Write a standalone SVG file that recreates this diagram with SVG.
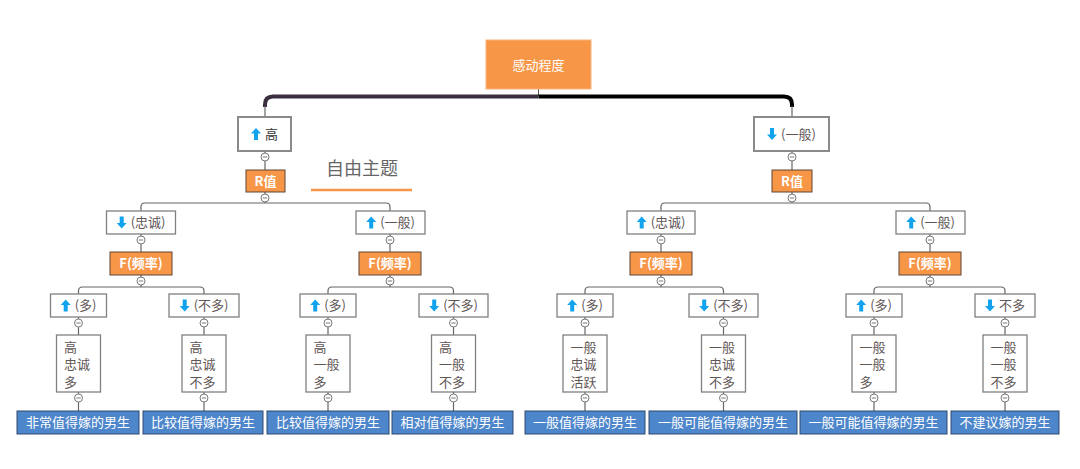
<svg xmlns="http://www.w3.org/2000/svg" width="1080" height="469" viewBox="0 0 1080 469">
<style>
text{font-family:"Noto Sans CJK SC","Liberation Sans",sans-serif;font-size:13px}
.wb{fill:#fff;stroke:#808080;stroke-width:1.3}
.l1{fill:#fff;stroke:#8a8a8a;stroke-width:2}
.or{fill:#F79646;stroke:#5e4636;stroke-width:1}
.bl{fill:#4E86CB;stroke:#2E4A6E;stroke-width:1}
.tw{fill:#fff;font-weight:bold}
.tb{fill:#fff;text-anchor:middle}
.tg{fill:#5f5656}
.ln{fill:none;stroke:#666;stroke-width:1.2}
.ic{fill:#12A3EE}
</style>
<defs>
<path id="up" d="M5,0 L10,5.5 H7 V12 H3 V5.5 H0 Z"/>
<path id="dn" d="M5,12 L10,6.5 H7 V0 H3 V6.5 H0 Z"/>
<g id="c"><circle r="4" fill="#fff" stroke="#7a7a7a" stroke-width="1"/><line x1="-2.2" x2="2.2" y1="0" y2="0" stroke="#7a7a7a" stroke-width="1"/></g>
</defs>

<g id="connectors">
<line x1="538.5" y1="89" x2="538.5" y2="96" stroke="#555" stroke-width="1"/>
<path d="M538.5,96.5 H273 Q265,96.5 265,104.5 V107" fill="none" stroke="#3b2e3e" stroke-width="4"/>
<path d="M538.5,96.5 H784 Q792,96.5 792,104.5 V107" fill="none" stroke="#000" stroke-width="4"/>
<line class="ln" x1="265" y1="106" x2="265" y2="117"/>
<line class="ln" x1="792" y1="106" x2="792" y2="117"/>
<line class="ln" x1="265" y1="151" x2="265" y2="170"/>
<line class="ln" x1="792" y1="151" x2="792" y2="170"/>
<line class="ln" x1="265" y1="192" x2="265" y2="203"/>
<line class="ln" x1="792" y1="192" x2="792" y2="203"/>
<path class="ln" d="M141,211 V207 Q141,203 145,203 H386 Q390,203 390,207 V211"/>
<path class="ln" d="M661,211 V207 Q661,203 665,203 H926 Q930,203 930,207 V211"/>
<line class="ln" x1="141" y1="234" x2="141" y2="252"/>
<line class="ln" x1="390" y1="234" x2="390" y2="252"/>
<line class="ln" x1="661" y1="234" x2="661" y2="252"/>
<line class="ln" x1="930" y1="234" x2="930" y2="252"/>
<line class="ln" x1="141" y1="275" x2="141" y2="287"/>
<line class="ln" x1="390" y1="275" x2="390" y2="287"/>
<line class="ln" x1="661" y1="275" x2="661" y2="287"/>
<line class="ln" x1="930" y1="275" x2="930" y2="287"/>
<path class="ln" d="M78.5,294 V291 Q78.5,287 82.5,287 H200 Q204,287 204,291 V294"/>
<path class="ln" d="M328,294 V291 Q328,287 332,287 H449.5 Q453.5,287 453.5,291 V294"/>
<path class="ln" d="M585,294 V291 Q585,287 589,287 H719.5 Q723.5,287 723.5,291 V294"/>
<path class="ln" d="M874,294 V291 Q874,287 878,287 H1001 Q1005,287 1005,291 V294"/>
<line class="ln" x1="78.5" y1="317" x2="78.5" y2="335"/>
<line class="ln" x1="204" y1="317" x2="204" y2="335"/>
<line class="ln" x1="328" y1="317" x2="328" y2="335"/>
<line class="ln" x1="453.5" y1="317" x2="453.5" y2="335"/>
<line class="ln" x1="585" y1="317" x2="585" y2="335"/>
<line class="ln" x1="723.5" y1="317" x2="723.5" y2="335"/>
<line class="ln" x1="874" y1="317" x2="874" y2="335"/>
<line class="ln" x1="1005" y1="317" x2="1005" y2="335"/>
<line class="ln" x1="78.5" y1="392" x2="78.5" y2="411"/>
<line class="ln" x1="204" y1="392" x2="204" y2="411"/>
<line class="ln" x1="328" y1="392" x2="328" y2="411"/>
<line class="ln" x1="453.5" y1="392" x2="453.5" y2="411"/>
<line class="ln" x1="585" y1="392" x2="585" y2="411"/>
<line class="ln" x1="723.5" y1="392" x2="723.5" y2="411"/>
<line class="ln" x1="874" y1="392" x2="874" y2="411"/>
<line class="ln" x1="1005" y1="392" x2="1005" y2="411"/>
<use href="#c" x="265" y="157"/><use href="#c" x="792" y="157"/>
<use href="#c" x="265" y="198"/><use href="#c" x="792" y="198"/>
<use href="#c" x="141" y="240"/><use href="#c" x="390" y="240"/><use href="#c" x="661" y="240"/><use href="#c" x="930" y="240"/>
<use href="#c" x="141" y="281"/><use href="#c" x="390" y="281"/><use href="#c" x="661" y="281"/><use href="#c" x="930" y="281"/>
<use href="#c" x="78.5" y="323"/><use href="#c" x="204" y="323"/><use href="#c" x="328" y="323"/><use href="#c" x="453.5" y="323"/>
<use href="#c" x="585" y="323"/><use href="#c" x="723.5" y="323"/><use href="#c" x="874" y="323"/><use href="#c" x="1005" y="323"/>
<use href="#c" x="78.5" y="398"/><use href="#c" x="204" y="398"/><use href="#c" x="328" y="398"/><use href="#c" x="453.5" y="398"/>
<use href="#c" x="585" y="398"/><use href="#c" x="723.5" y="398"/><use href="#c" x="874" y="398"/><use href="#c" x="1005" y="398"/>
</g>

<g id="root"><rect x="486" y="40" width="105" height="49" fill="#F79646" stroke="#F9B27A" stroke-width="1"/><text x="538.5" y="69.5" class="tb">感动程度</text></g>

<g id="free-topic"><text x="326" y="175" style="font-size:18px;fill:#666">自由主题</text><line x1="311" y1="190" x2="412" y2="190" stroke="#F79646" stroke-width="2.5"/></g>

<g id="n-high"><rect class="l1" x="238" y="117" width="53" height="34"/><use href="#up" class="ic" x="251" y="128"/><text x="265" y="138.5" fill="#333">高</text></g>
<g id="n-avg"><rect class="l1" x="754" y="117" width="75" height="34"/><use href="#dn" class="ic" x="767" y="128"/><text x="781" y="138.5" class="tg">(一般)</text></g>

<g id="r-left"><rect class="or" x="246" y="170" width="39" height="22"/><text x="265.5" y="185.5" class="tw" text-anchor="middle">R值</text></g>
<g id="r-right"><rect class="or" x="772" y="170" width="40" height="22"/><text x="792" y="185.5" class="tw" text-anchor="middle">R值</text></g>

<g id="n-ll"><rect class="wb" x="106.5" y="211" width="69" height="23"/><use href="#dn" class="ic" x="116.7" y="216.5"/><text x="130.7" y="227" class="tg">(忠诚)</text></g>
<g id="n-lr"><rect class="wb" x="356" y="211" width="69" height="23"/><use href="#up" class="ic" x="366.2" y="216.5"/><text x="380.2" y="227" class="tg">(一般)</text></g>
<g id="n-rl"><rect class="wb" x="627" y="211" width="68" height="23"/><use href="#up" class="ic" x="636.7" y="216.5"/><text x="650.7" y="227" class="tg">(忠诚)</text></g>
<g id="n-rr"><rect class="wb" x="896" y="211" width="69" height="23"/><use href="#up" class="ic" x="906.2" y="216.5"/><text x="920.2" y="227" class="tg">(一般)</text></g>

<g id="f-ll"><rect class="or" x="110" y="252" width="62" height="23"/><text x="141" y="268" class="tw" text-anchor="middle">F(频率)</text></g>
<g id="f-lr"><rect class="or" x="359" y="252" width="62" height="23"/><text x="390" y="268" class="tw" text-anchor="middle">F(频率)</text></g>
<g id="f-rl"><rect class="or" x="630" y="252" width="62" height="23"/><text x="661" y="268" class="tw" text-anchor="middle">F(频率)</text></g>
<g id="f-rr"><rect class="or" x="899" y="252" width="62" height="23"/><text x="930" y="268" class="tw" text-anchor="middle">F(频率)</text></g>

<g id="a1"><rect class="wb" x="50.5" y="294" width="56" height="23"/><use href="#up" class="ic" x="60.7" y="299.5"/><text x="74.7" y="310" class="tg">(多)</text></g>
<g id="a2"><rect class="wb" x="169" y="294" width="70" height="23"/><use href="#dn" class="ic" x="179.7" y="299.5"/><text x="193.7" y="310" class="tg">(不多)</text></g>
<g id="a3"><rect class="wb" x="300" y="294" width="56" height="23"/><use href="#up" class="ic" x="310.2" y="299.5"/><text x="324.2" y="310" class="tg">(多)</text></g>
<g id="a4"><rect class="wb" x="419" y="294" width="69" height="23"/><use href="#dn" class="ic" x="429.2" y="299.5"/><text x="443.2" y="310" class="tg">(不多)</text></g>
<g id="a5"><rect class="wb" x="557" y="294" width="56" height="23"/><use href="#up" class="ic" x="567.2" y="299.5"/><text x="581.2" y="310" class="tg">(多)</text></g>
<g id="a6"><rect class="wb" x="689" y="294" width="69" height="23"/><use href="#dn" class="ic" x="699.2" y="299.5"/><text x="713.2" y="310" class="tg">(不多)</text></g>
<g id="a7"><rect class="wb" x="846" y="294" width="56" height="23"/><use href="#up" class="ic" x="856.2" y="299.5"/><text x="870.2" y="310" class="tg">(多)</text></g>
<g id="a8"><rect class="wb" x="975" y="294" width="60" height="23"/><use href="#dn" class="ic" x="985" y="299.5"/><text x="999" y="310" class="tg">不多</text></g>

<g id="b1"><rect class="wb" x="56.5" y="335" width="44" height="57"/><text class="tg" x="64" y="351.5">高</text><text class="tg" x="64" y="369">忠诚</text><text class="tg" x="64" y="386.5">多</text></g>
<g id="b2"><rect class="wb" x="182" y="335" width="44" height="57"/><text class="tg" x="189.5" y="351.5">高</text><text class="tg" x="189.5" y="369">忠诚</text><text class="tg" x="189.5" y="386.5">不多</text></g>
<g id="b3"><rect class="wb" x="306" y="335" width="44" height="57"/><text class="tg" x="313.5" y="351.5">高</text><text class="tg" x="313.5" y="369">一般</text><text class="tg" x="313.5" y="386.5">多</text></g>
<g id="b4"><rect class="wb" x="431.5" y="335" width="44" height="57"/><text class="tg" x="439" y="351.5">高</text><text class="tg" x="439" y="369">一般</text><text class="tg" x="439" y="386.5">不多</text></g>
<g id="b5"><rect class="wb" x="563" y="335" width="44" height="57"/><text class="tg" x="570.5" y="351.5">一般</text><text class="tg" x="570.5" y="369">忠诚</text><text class="tg" x="570.5" y="386.5">活跃</text></g>
<g id="b6"><rect class="wb" x="701.5" y="335" width="44" height="57"/><text class="tg" x="709" y="351.5">一般</text><text class="tg" x="709" y="369">忠诚</text><text class="tg" x="709" y="386.5">不多</text></g>
<g id="b7"><rect class="wb" x="852" y="335" width="44" height="57"/><text class="tg" x="859.5" y="351.5">一般</text><text class="tg" x="859.5" y="369">一般</text><text class="tg" x="859.5" y="386.5">多</text></g>
<g id="b8"><rect class="wb" x="983" y="335" width="44" height="57"/><text class="tg" x="990.5" y="351.5">一般</text><text class="tg" x="990.5" y="369">一般</text><text class="tg" x="990.5" y="386.5">不多</text></g>

<g id="r1"><rect class="bl" x="17" y="411" width="122" height="23"/><text class="tb" x="78" y="427">非常值得嫁的男生</text></g>
<g id="r2"><rect class="bl" x="143" y="411" width="120" height="23"/><text class="tb" x="203" y="427">比较值得嫁的男生</text></g>
<g id="r3"><rect class="bl" x="267" y="411" width="122" height="23"/><text class="tb" x="328" y="427">比较值得嫁的男生</text></g>
<g id="r4"><rect class="bl" x="392" y="411" width="121" height="23"/><text class="tb" x="452.5" y="427">相对值得嫁的男生</text></g>
<g id="r5"><rect class="bl" x="525" y="411" width="120" height="23"/><text class="tb" x="585" y="427">一般值得嫁的男生</text></g>
<g id="r6"><rect class="bl" x="649" y="411" width="148" height="23"/><text class="tb" x="723" y="427">一般可能值得嫁的男生</text></g>
<g id="r7"><rect class="bl" x="800" y="411" width="147" height="23"/><text class="tb" x="873.5" y="427">一般可能值得嫁的男生</text></g>
<g id="r8"><rect class="bl" x="951" y="411" width="108" height="23"/><text class="tb" x="1005" y="427">不建议嫁的男生</text></g>
</svg>
